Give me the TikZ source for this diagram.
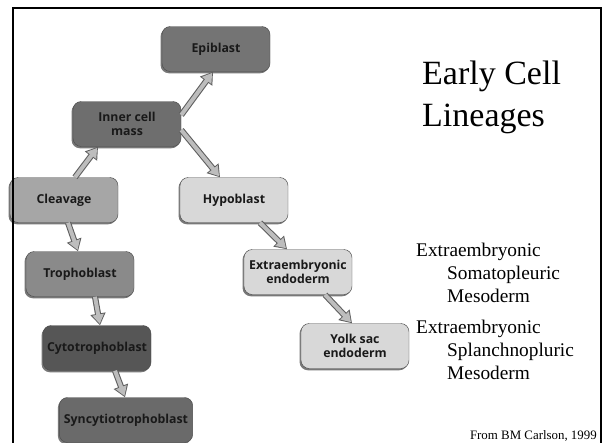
\documentclass[tikz,border=0pt]{standalone}
\usepackage{fontspec}
\setmainfont{Liberation Serif}
\newfontfamily\boxfont{Open Sans}
\usetikzlibrary{arrows.meta,shadows}
\definecolor{EpiGray}{HTML}{747474}
\definecolor{MassGray}{HTML}{6E6E6E}
\definecolor{CleavGray}{HTML}{A6A6A6}
\definecolor{TrophGray}{HTML}{8A8A8A}
\definecolor{CytoGray}{HTML}{565656}
\definecolor{SyncGray}{HTML}{6A6A6A}
\definecolor{PaleGray}{HTML}{D8D8D8}
\definecolor{ArrowFill}{HTML}{BDBDBD}
\definecolor{ArrowEdge}{HTML}{5E5E5E}

\begin{document}
\begin{tikzpicture}[x=0.03cm,y=-0.03cm,
  cell/.style={draw=black!70,rounded corners=7pt,minimum width=3.24cm,minimum height=1.35cm,
    align=center,inner sep=2pt,text=black!90,font=\boxfont\bfseries\fontsize{10.5}{12.5}\selectfont,
    drop shadow={shadow xshift=-1.2pt,shadow yshift=-1.5pt,fill=black!75,opacity=.7}},
  lin/.style={draw=ArrowFill,line width=3.4pt,shorten >=1.2pt,-{Triangle[length=8pt,width=9.5pt]},
    preaction={draw=ArrowEdge,line width=5.2pt,shorten >=0pt,-{Triangle[length=10pt,width=12.5pt]}}},
  side/.style={anchor=base west,inner sep=0pt,font=\fontsize{16.5}{20}\selectfont}]
\useasboundingbox[fill=white] (0,0) rectangle (605,443);
\node[cell,fill=EpiGray] (epi) at (216,49) {Epiblast};
\node[cell,fill=MassGray] (icm) at (127,124) {Inner cell\\mass};
\node[cell,fill=CleavGray] (cleav) at (64,200) {Cleavage};
\node[cell,fill=PaleGray] (hypo) at (234,200) {Hypoblast};
\node[cell,fill=TrophGray] (troph) at (80,274) {Trophoblast};
\node[cell,fill=CytoGray] (cyto) at (97,348) {Cytotrophoblast};
\node[cell,fill=SyncGray,minimum width=4cm] (sync) at (126,420) {Syncytiotrophoblast};
\node[cell,fill=PaleGray] (endo) at (298,272) {Extraembryonic\\endoderm};
\node[cell,fill=PaleGray] (yolk) at (355,346) {Yolk sac\\endoderm};
\draw[lin] ([shift={(0,-9)}]icm.east) -- ([shift={(-3,0)}]epi.south);
\draw[lin] ([shift={(0,6)}]icm.east) -- ([shift={(-14,0)}]hypo.north);
\draw[lin] ([shift={(11,0)}]cleav.north) -- ([shift={(-29,0)}]icm.south);
\draw[lin] ([shift={(4,0)}]cleav.south) -- ([shift={(-2,0)}]troph.north);
\draw[lin] ([shift={(15,0)}]troph.south) -- ([shift={(3,0)}]cyto.north);
\draw[lin] ([shift={(18,0)}]cyto.south) -- ([shift={(-1,0)}]sync.north);
\draw[lin] ([shift={(26,0)}]hypo.south) -- ([shift={(-11,0)}]endo.north);
\draw[lin] ([shift={(27,0)}]endo.south) -- ([shift={(-3,0)}]yolk.north);
\draw[line width=2.2pt] (13,450) -- (13,8) -- (601,8) -- (601,450);
\node[side,font=\fontsize{29}{34}\selectfont] (ttl1) at (422,84) {Early Cell};
\node[side,font=\fontsize{29}{34}\selectfont] (ttl2) at (422,126) {Lineages};
\node[side] (som1) at (416,256) {Extraembryonic};
\node[side] (som2) at (447,279) {Somatopleuric};
\node[side] (som3) at (447,302) {Mesoderm};
\node[side] (spl1) at (416,333) {Extraembryonic};
\node[side] (spl2) at (447,356) {Splanchnopluric};
\node[side] (spl3) at (447,379) {Mesoderm};
\node[anchor=base east,inner sep=0pt,font=\fontsize{11}{13}\selectfont] (src) at (597,439) {From BM Carlson, 1999};
\end{tikzpicture}
\end{document}
